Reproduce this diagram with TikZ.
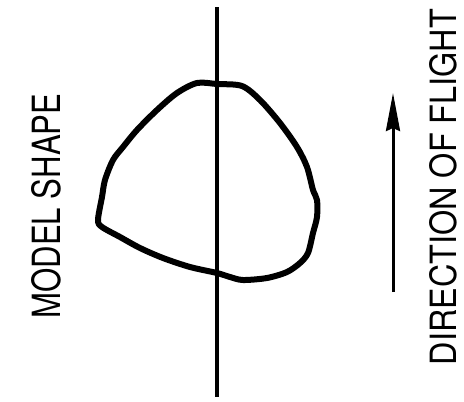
\documentclass[tikz,border=0pt]{standalone}
\usepackage{fontspec}
\setsansfont{TeX Gyre Heros}
\usetikzlibrary{arrows.meta}
\tikzset{
  lbl/.style={inner sep=0pt, rotate=90, font=\sffamily},
  axisline/.style={line width=4pt},
  outline/.style={line width=6pt, line join=round},
  flightarrow/.style={line width=3pt, -{Stealth[length=38pt,width=14pt,inset=3pt]}}
}
\begin{document}
\begin{tikzpicture}[x=1pt,y=-1pt]
\useasboundingbox (0,0) rectangle (464,402);
\fill[white] (0,0) rectangle (464,402);
\coordinate (axtop) at (217,7);
\coordinate (axbot) at (217,397);
\draw[axisline] (axtop) -- (axbot);
\draw[outline] plot[smooth cycle, tension=0.5] coordinates {
 (197,83) (217,84) (242,86) (260,100) (280,123) (297,147) (307,167)
 (313,190) (317,200) (317,217) (313,233) (308,253) (300,263) (287,272)
 (267,278) (243,280) (230,277) (217,273) (190,267) (163,258) (140,248)
 (120,237) (102,227) (98,220) (102,197) (105,180) (113,160) (123,147)
 (137,130) (157,110) (177,93)};
\coordinate (arrbot) at (393,292);
\coordinate (arrtop) at (393,93);
\draw[flightarrow] (arrbot) -- (arrtop);
\node[lbl] (model) at (46,206) {\resizebox{225pt}{29pt}{MODEL SHAPE}};
\node[lbl] (flight) at (443,187) {\resizebox{356pt}{27pt}{DIRECTION OF FLIGHT}};
\end{tikzpicture}
\end{document}
